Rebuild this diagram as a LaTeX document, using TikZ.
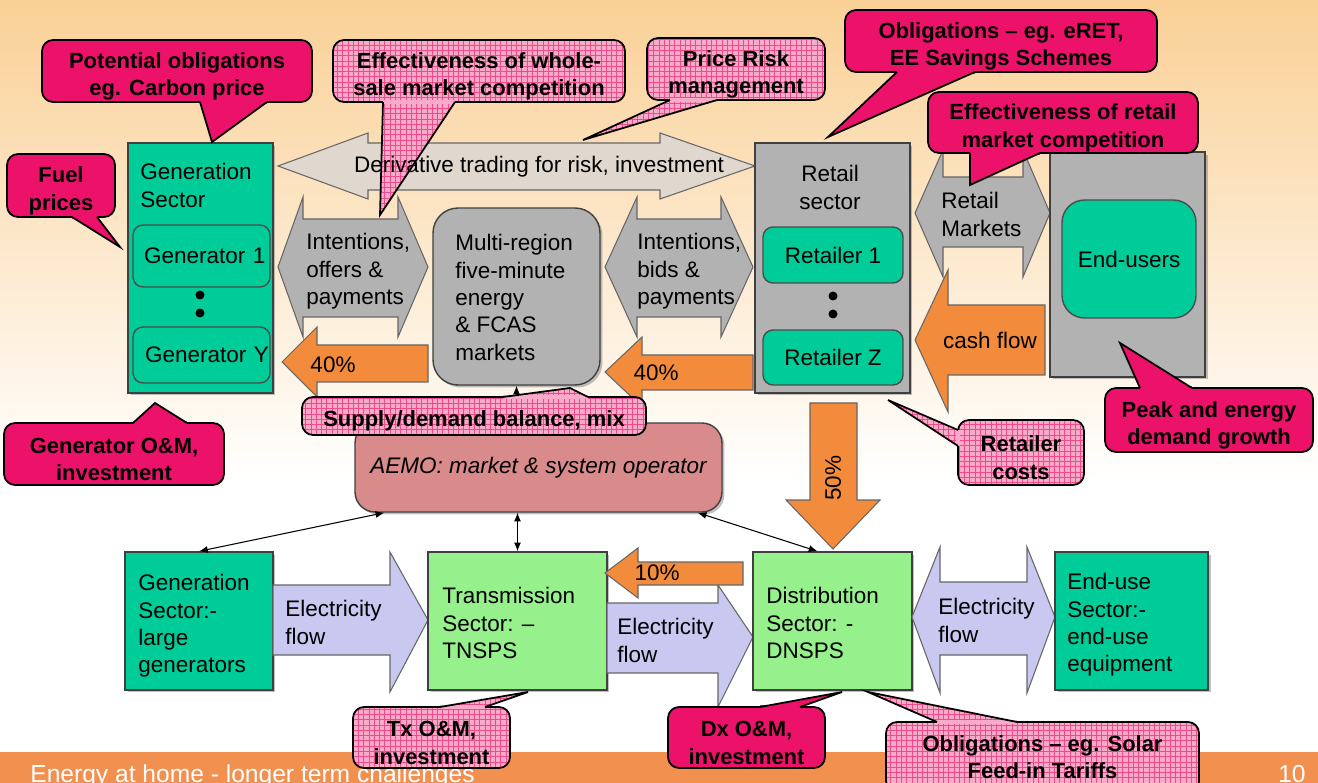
\documentclass[tikz,border=0pt]{standalone}
\usepackage{fontspec}
\setmainfont{Liberation Sans}
\usepackage{tikz}
\usetikzlibrary{positioning,calc,arrows.meta,shadows,patterns}

\definecolor{gensec}{RGB}{0,204,153}
\definecolor{mktgray}{RGB}{178,178,178}
\definecolor{netgreen}{RGB}{150,240,140}
\definecolor{flowblue}{RGB}{200,200,240}
\definecolor{derivbeige}{RGB}{224,216,206}
\definecolor{cashorange}{RGB}{242,140,60}
\definecolor{aemorose}{RGB}{217,138,138}
\definecolor{hotpink}{RGB}{236,18,106}
\definecolor{softpink}{RGB}{248,170,200}
\definecolor{gridpink}{RGB}{238,75,140}
\definecolor{footorange}{RGB}{242,144,80}
\definecolor{bgtop}{RGB}{250,208,150}

% pointer of a callout: fill style, fill colour, base 1, base 2, tip
\newcommand{\calltip}[5]{%
  \fill[#1] #3 -- #5 -- #4 -- cycle;
  \draw[#2, line width=1.8pt] #3 -- #4;
  \draw[line width=1pt] #3 -- #5 -- #4;}
% pushes the text of a callout a little down
\newcommand{\topgap}{\rule{0pt}{15pt}}

\begin{document}
\begin{tikzpicture}[x=0.02cm, y=-0.02cm, >=Latex,
    txt/.style={font=\fontsize{12.8}{15.6}\selectfont, align=left, inner sep=0pt},
    sector/.style={draw=black!75, line width=0.8pt, inner sep=0pt,
      drop shadow={shadow xshift=0.05cm, shadow yshift=-0.05cm}},
    unit/.style={draw=black!70, line width=0.8pt, fill=gensec, rounded corners=0.2cm,
      inner sep=0pt, font=\fontsize{12.8}{15.6}\selectfont},
    blk/.style={draw=black!60, line width=0.6pt},
    callD/.style={fill=hotpink},
    callL/.style={preaction={fill=softpink}, pattern=grid, pattern color=gridpink},
    callout/.style={draw=black, line width=1pt, rounded corners=0.22cm, inner sep=0pt,
      align=center, font=\bfseries\fontsize{12.5}{15.5}\selectfont},
    link/.style={<->, line width=0.6pt, >={Latex[length=5pt,width=4pt]}}]

    % background and footer
    \fill[white] (0,0) rectangle (1318,783);
    \shade[top color=bgtop, bottom color=white] (0,0) rectangle (1318,480);
    \useasboundingbox (0,0) rectangle (1318,783);
    \fill[footorange] (0,752) rectangle (1318,783);
    \node[anchor=base west, text=white, inner sep=0pt, font=\fontsize{14}{16}\selectfont] (foot) at (30,782) {Energy at home - longer term challenges};
    \node[anchor=base east, text=white, inner sep=0pt, font=\fontsize{14}{16}\selectfont] (pgno) at (1306,782) {10};

    % Generation sector
    \node[sector, fill=gensec, minimum width=2.9cm, minimum height=5cm] (gen) at (200.5,268) {};
    \node[txt, anchor=north west] (gentxt) at (140,163) {Generation\\Sector};
    \node[unit, minimum width=2.74cm, minimum height=1.24cm, text width=2.56cm, align=right] (gen1) at (201.5,256) {Generator 1};
    \fill (200,295) circle (0.09cm) (200,313) circle (0.09cm);
    \node[unit, minimum width=2.74cm, minimum height=1.12cm, text width=2.7cm, align=right] (genY) at (201.5,355) {Generator Y};

    % Derivative trading, with the whole-sale callout lying under its text
    \draw[blk, fill=derivbeige] (278,166) -- (368,133) -- (368,143) -- (660,143) -- (660,133) -- (755,166)
      -- (660,199) -- (660,190) -- (368,190) -- (368,199) -- cycle;
    \node[callout, callL, minimum width=5.84cm, minimum height=1.24cm] (coWhole) at (479,71) {\topgap Effectiveness of whole-\\sale market competition};
    \calltip{callL}{softpink}{(383,102)}{(455,102)}{(380,215)}
    \node[txt] (deriv) at (539,167) {Derivative trading for risk, investment};

    % Offers and bids
    \draw[blk, fill=mktgray] (278,267) -- (303,197) -- (303,219) -- (398,219) -- (398,197) -- (428,267)
      -- (398,337) -- (398,317) -- (303,317) -- (303,337) -- cycle;
    \node[txt, anchor=north west] (offers) at (306,233) {Intentions,\\offers \&\\payments};
    \node[sector, fill=mktgray, rounded corners=0.5cm, minimum width=3.34cm, minimum height=3.54cm] (mr) at (516.5,296.5) {};
    \node[txt, anchor=north west] (mrtxt) at (455,234) {Multi-region\\five-minute\\energy\\\& FCAS\\markets};
    \draw[blk, fill=mktgray] (605,267) -- (637,197) -- (637,219) -- (721,219) -- (721,197) -- (753,267)
      -- (721,337) -- (721,317) -- (637,317) -- (637,337) -- cycle;
    \node[txt, anchor=north west] (bids) at (637,233) {Intentions,\\bids \&\\payments};

    % Retail sector
    \node[sector, fill=mktgray, minimum width=3.1cm, minimum height=5cm] (ret) at (832.5,268) {};
    \node[txt, anchor=north, align=center] (rettxt) at (830,165) {Retail\\sector};
    \node[unit, minimum width=2.8cm, minimum height=1.12cm] (ret1) at (833,255) {Retailer 1};
    \fill (833,296) circle (0.09cm) (833,314) circle (0.09cm);
    \node[unit, minimum width=2.8cm, minimum height=1.1cm] (retZ) at (833,357.5) {Retailer Z};

    % Retail markets and end-users
    \draw[blk, fill=mktgray] (915,213) -- (943,150) -- (943,177) -- (1023,177) -- (1023,150) -- (1050,213)
      -- (1023,277) -- (1023,247) -- (943,247) -- (943,277) -- cycle;
    \node[txt, anchor=north west] (rmkt) at (941,192) {Retail\\Markets};
    \node[sector, fill=mktgray, minimum width=3.1cm, minimum height=4.5cm] (eusr) at (1127.5,264.5) {};
    \node[unit, rounded corners=0.45cm, minimum width=2.68cm, minimum height=2.36cm] (eusrin) at (1129,259) {End-users};

    % Cash flows
    \draw[blk, fill=cashorange] (282,362) -- (317,327) -- (317,345) -- (428,345) -- (428,382) -- (317,382) -- (317,397) -- cycle;
    \node[txt] (pctA) at (333,365) {40\%};
    \draw[blk, fill=cashorange] (605,372) -- (642,337) -- (642,355) -- (753,355) -- (753,390) -- (642,390) -- (642,407) -- cycle;
    \node[txt] (pctB) at (656,373) {40\%};
    \draw[blk, fill=cashorange] (915,340) -- (948,270) -- (948,305) -- (1045,305) -- (1045,375) -- (948,375) -- (948,412) -- cycle;
    \node[txt] (cash) at (990,340) {cash flow};
    \draw[blk, fill=cashorange] (810,403) -- (857,403) -- (857,500) -- (880,500) -- (833,549) -- (786,500) -- (810,500) -- cycle;
    \node[txt, rotate=90] (pctC) at (833,478) {50\%};

    % AEMO
    \node[sector, fill=aemorose, rounded corners=0.4cm, minimum width=7.34cm, minimum height=1.78cm,
      font=\itshape\fontsize{12.8}{15.6}\selectfont] (aemo) at (538.5,467.5) {AEMO: market \& system operator};

    % Physical supply chain
    \node[sector, fill=gensec, minimum width=2.96cm, minimum height=2.76cm] (genB) at (199,621) {};
    \node[txt, anchor=north west] (genBtxt) at (138,574) {Generation\\Sector:-\\large\\generators};
    \draw[blk, fill=flowblue] (273,585) -- (390,585) -- (390,552) -- (428,620) -- (390,692) -- (390,655) -- (273,655) -- cycle;
    \node[txt, anchor=north west] (flowA) at (285,600) {Electricity\\flow};
    \node[sector, fill=netgreen, minimum width=3.58cm, minimum height=2.76cm] (tx) at (517.5,621) {};
    \node[txt, anchor=north west] (txtxt) at (442,587) {Transmission\\Sector: –\\TNSPS};
    \draw[blk, fill=flowblue] (607,603) -- (718,603) -- (718,585) -- (753,637) -- (718,707) -- (718,673) -- (607,673) -- cycle;
    \node[txt, anchor=north west] (flowB) at (617,618) {Electricity\\flow};
    \node[sector, fill=netgreen, minimum width=3.18cm, minimum height=2.76cm] (dx) at (832.5,621) {};
    \node[txt, anchor=north west] (dxtxt) at (766,587) {Distribution\\Sector: -\\DNSPS};
    \draw[blk, fill=flowblue] (912,617) -- (940,547) -- (940,582) -- (1027,582) -- (1027,547) -- (1055,617)
      -- (1027,693) -- (1027,655) -- (940,655) -- (940,693) -- cycle;
    \node[txt, anchor=north west] (flowC) at (938,598) {Electricity\\flow};
    \node[sector, fill=gensec, minimum width=3.06cm, minimum height=2.76cm] (eu) at (1131.5,621) {};
    \node[txt, anchor=north west] (eutxt) at (1067,573) {End-use\\Sector:-\\end-use\\equipment};
    \draw[blk, fill=cashorange] (605,573) -- (638,548) -- (638,562) -- (743,562) -- (743,585) -- (638,585) -- (638,598) -- cycle;
    \node[txt] (pctD) at (657,573) {10\%};

    % AEMO links
    \draw[link] (mr.south) -- (mr.south |- aemo.north);
    \draw[link] (aemo.south -| tx.north) -- (tx.north);
    \draw[link] ([xshift=0.6cm]aemo.south west) -- (genB.north);
    \draw[link] ([xshift=-0.5cm]aemo.south east) -- ([xshift=-0.3cm]dx.north);

    % Callouts
    \node[callout, callD, minimum width=5.4cm, minimum height=1.24cm] (coCarbon) at (177,71) {\topgap Potential obligations\\eg. Carbon price};
    \calltip{callD}{hotpink}{(200,102)}{(267,102)}{(212,142)}
    \node[callout, callD, minimum width=2.16cm, minimum height=1.26cm] (coFuel) at (61,185.5) {\topgap Fuel\\prices};
    \calltip{callD}{hotpink}{(72,217)}{(97,217)}{(120,247)}
    \node[callout, callL, minimum width=3.56cm, minimum height=1.24cm] (coRisk) at (736,69) {\topgap Price Risk\\management};
    \calltip{callL}{softpink}{(670,100)}{(717,100)}{(583,140)}
    \node[callout, callD, minimum width=6.24cm, minimum height=1.24cm] (coRET) at (1001,41) {\topgap Obligations – eg. eRET,\\EE Savings Schemes};
    \calltip{callD}{hotpink}{(897,72)}{(975,72)}{(828,137)}
    \node[callout, callD, minimum width=5.4cm, minimum height=1.22cm] (coRetail) at (1063,122.5) {\topgap Effectiveness of retail\\market competition};
    \calltip{callD}{hotpink}{(970,153)}{(1040,153)}{(970,185)}
    \node[callout, callD, minimum width=4.16cm, minimum height=1.28cm] (coPeak) at (1209,420) {\topgap Peak and energy\\demand growth};
    \calltip{callD}{hotpink}{(1140,388)}{(1192,388)}{(1120,343)}
    \node[callout, callL, minimum width=2.52cm, minimum height=1.3cm] (coCosts) at (1021,452.5) {\topgap Retailer\\costs};
    \calltip{callL}{softpink}{(958,430)}{(958,446)}{(888,400)}
    \node[callout, callD, minimum width=4.4cm, minimum height=1.24cm] (coGenOM) at (114,454) {\topgap Generator O\&M,\\investment};
    \calltip{callD}{hotpink}{(133,423)}{(187,423)}{(155,403)}
    \node[callout, callL, minimum width=6.88cm, minimum height=0.76cm] (coSupply) at (474,416) {\topgap Supply/demand balance, mix};
    \calltip{callL}{softpink}{(503,397)}{(588,397)}{(570,388)}
    \node[callout, callL, minimum width=3.14cm, minimum height=1.22cm] (coTx) at (431.5,737.5) {\topgap Tx O\&M,\\investment};
    \calltip{callL}{softpink}{(440,707)}{(485,707)}{(528,692)}
    \node[callout, callD, minimum width=3.14cm, minimum height=1.22cm] (coDx) at (746.5,737.5) {\topgap Dx O\&M,\\investment};
    \calltip{callD}{hotpink}{(760,707)}{(800,707)}{(842,692)}
    \node[callout, callL, minimum width=6.26cm, minimum height=1.4cm] (coSolar) at (1042.5,757) {Obligations – eg. Solar\\Feed-in Tariffs};
    \calltip{callL}{softpink}{(937,722)}{(1017,722)}{(868,692)}
\end{tikzpicture}
\end{document}
